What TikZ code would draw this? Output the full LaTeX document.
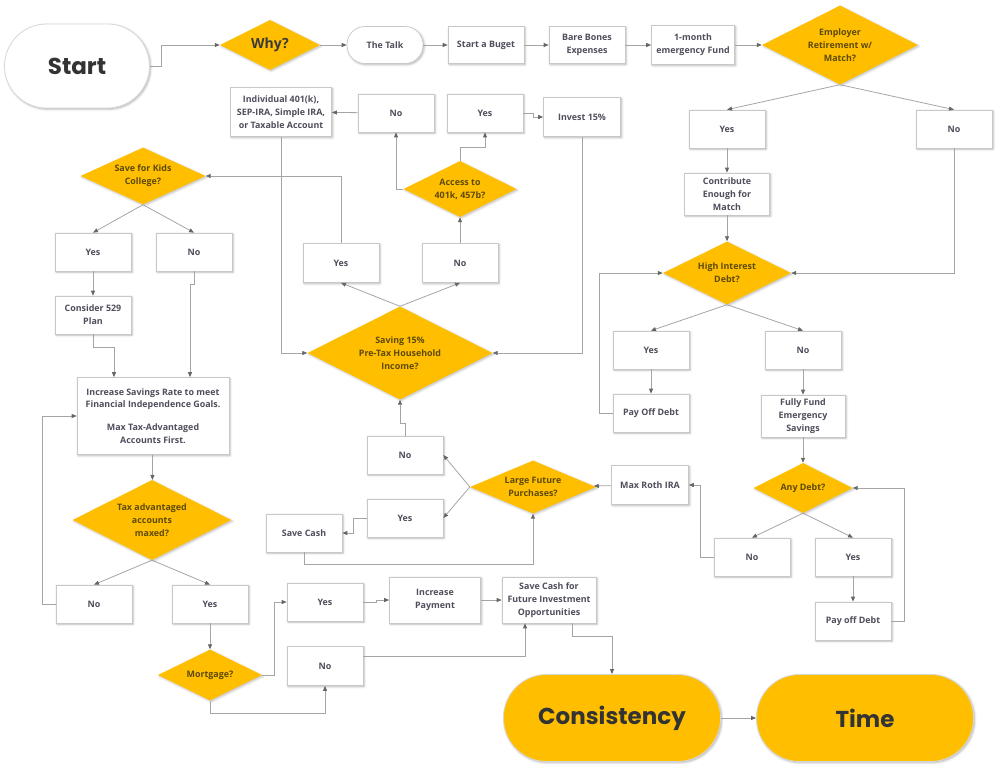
\documentclass[tikz,border=0pt]{standalone}
\usepackage{fontspec}
\setmainfont{Open Sans}
\newfontfamily\titlefont{Poppins}
\usepackage{tikz}
\usetikzlibrary{arrows.meta, positioning, shapes.geometric, shadows.blur}

\begin{document}
\begin{tikzpicture}[x=1pt, y=-1pt,
            box/.style={draw={rgb,255:red,200;green,200;blue,200}, fill=white,
                    line width=0.7pt, minimum width=76pt, minimum height=38pt,
                    align=center, inner sep=1pt,
                    font=\fontsize{8.9}{12.8}\selectfont\bfseries,
                    text={rgb,255:red,78;green,78;blue,92},
                    blur shadow={shadow xshift=1.2pt, shadow yshift=-1.2pt,
                    shadow blur steps=4, shadow opacity=30}},
            decision/.style={diamond, aspect=2, inner sep=0pt,
                    fill={rgb,255:red,255;green,191;blue,0}, align=center,
                    font=\fontsize{8.9}{12.8}\selectfont\bfseries,
                    text={rgb,255:red,94;green,74;blue,8},
                    blur shadow={shadow xshift=1.2pt, shadow yshift=-1.2pt,
                    shadow blur steps=4, shadow opacity=25}},
            pill/.style={box, rounded corners=18pt},
            bigpill/.style={draw={rgb,255:red,215;green,215;blue,215}, line width=0.8pt,
                    minimum width=217pt, minimum height=87pt, rounded corners=43pt,
                    font=\titlefont\fontsize{23}{27}\selectfont\bfseries,
                    text={rgb,255:red,51;green,51;blue,51},
                    blur shadow={shadow xshift=1.2pt, shadow yshift=-1.2pt,
                    shadow blur steps=4, shadow opacity=30}},
            link/.style={draw={rgb,255:red,165;green,165;blue,165}, line width=0.8pt},
            arr/.style={link, -{Triangle[length=5pt, width=4pt, color=black!60]}}
        ]

        \useasboundingbox (0,0) rectangle (1000,773);

        % ---------------------------------------------------------------
        % TOP ROW
        % ---------------------------------------------------------------
        \node[bigpill, fill=white, minimum width=145pt, minimum height=84pt,
              rounded corners=42pt] (start) at (77,66) {Start};
        \node[decision, minimum width=100pt, minimum height=50pt,
              font=\fontsize{14}{16}\selectfont\bfseries,
              text={rgb,255:red,58;green,58;blue,58}] (why) at (270,45) {Why?};
        \node[pill, minimum height=37pt] (talk) at (385,45) {The Talk};
        \node[box, minimum height=37pt] (budget) at (486,45) {Start a Buget};
        \node[box, minimum height=37pt] (bones) at (587,45) {Bare Bones\\Expenses};
        \node[box, minimum width=83pt, minimum height=39pt] (emfund) at (693,45) {1-month\\emergency Fund};
        \node[decision, minimum width=156pt, minimum height=79pt] (employer) at (840,45)
            {Employer\\Retirement w/\\Match?};

        % ---------------------------------------------------------------
        % EMPLOYER MATCH / DEBT (right)
        % ---------------------------------------------------------------
        \node[box] (empyes) at (727,129) {Yes};
        \node[box] (empno) at (954,129) {No};
        \node[box, minimum width=85pt, minimum height=42pt] (contrib) at (727,194)
            {Contribute\\Enough for\\Match};
        \node[decision, minimum width=128pt, minimum height=63pt] (hidebt) at (727,273)
            {High Interest\\Debt?};
        \node[box] (hiyes) at (651,350) {Yes};
        \node[box] (hino) at (803,350) {No};
        \node[box] (payoff) at (651,413) {Pay Off Debt};
        \node[box, minimum width=84pt, minimum height=42pt] (fullfund) at (803,416)
            {Fully Fund\\Emergency\\Savings};
        \node[decision, minimum width=99pt, minimum height=50pt] (anydebt) at (803,488) {Any Debt?};
        \node[box] (anyno) at (752,557) {No};
        \node[box] (anyyes) at (853,557) {Yes};
        \node[box] (payoffb) at (853,621) {Pay off Debt};

        % ---------------------------------------------------------------
        % SAVING 15% (middle)
        % ---------------------------------------------------------------
        \node[box, minimum width=101pt, minimum height=49pt] (indiv) at (281,112)
            {Individual 401(k),\\SEP-IRA, Simple IRA,\\or Taxable Account};
        \node[box] (accno) at (396,113) {No};
        \node[box] (accyes) at (485,113) {Yes};
        \node[box, minimum width=77pt, minimum height=39pt] (invest) at (582,117) {Invest 15\%};
        \node[decision, minimum width=113pt, minimum height=56pt] (access) at (460,189)
            {Access to\\401k, 457b?};
        \node[box, minimum height=39pt] (savyes) at (341,263) {Yes};
        \node[box, minimum height=39pt] (savno) at (460,263) {No};
        \node[decision, minimum width=185pt, minimum height=93pt] (saving) at (400,353)
            {Saving 15\%\\Pre-Tax Household\\Income?};
        \node[box] (lgno) at (405,455) {No};
        \node[box] (lgyes) at (405,518) {Yes};
        \node[box] (savecash) at (304,533) {Save Cash};
        \node[decision, minimum width=126pt, minimum height=53pt] (largep) at (533,487)
            {Large Future\\Purchases?};
        \node[box, minimum width=77pt, minimum height=39pt] (roth) at (650,485) {Max Roth IRA};

        % ---------------------------------------------------------------
        % KIDS / TAX ADVANTAGED (left)
        % ---------------------------------------------------------------
        \node[decision, minimum width=125pt, minimum height=57pt] (kids) at (143,176)
            {Save for Kids\\College?};
        \node[box] (kidyes) at (93,252) {Yes};
        \node[box] (kidno) at (194,252) {No};
        \node[box] (plan529) at (93,315) {Consider 529\\Plan};
        \node[box, minimum width=152pt, minimum height=77pt] (incsave) at (153,416)
            {Increase Savings Rate to meet\\Financial Independence Goals.\\[10pt]
             Max Tax-Advantaged\\Accounts First.};
        \node[decision, minimum width=159pt, minimum height=80pt] (taxmax) at (152,520)
            {Tax advantaged\\accounts\\maxed?};
        \node[box] (taxno) at (94,604) {No};
        \node[box] (taxyes) at (210,604) {Yes};
        \node[decision, minimum width=104pt, minimum height=51pt] (mortgage) at (210,675) {Mortgage?};
        \node[box] (mortyes) at (325,602) {Yes};
        \node[box, minimum height=39pt] (mortno) at (325,666) {No};
        \node[box, minimum width=91pt, minimum height=46pt] (incpay) at (435,600) {Increase\\Payment};
        \node[box, minimum width=94pt, minimum height=46pt] (savefuture) at (549,600)
            {Save Cash for\\Future Investment\\Opportunities};

        % ---------------------------------------------------------------
        % END
        % ---------------------------------------------------------------
        \node[bigpill, fill={rgb,255:red,255;green,191;blue,0}] (consist) at (612,718) {Consistency};
        \node[bigpill, fill={rgb,255:red,255;green,191;blue,0}] (time) at (865,718) {Time};

        % Arrows (top row)
        \draw[arr] (start.east) -- ++(11,0) |- (why.west);
        \draw[arr] (why) -- (talk);
        \draw[arr] (talk) -- (budget);
        \draw[arr] (budget) -- (bones);
        \draw[arr] (bones) -- (emfund);
        \draw[arr] (emfund) -- (employer);

        % Arrows (right)
        \draw[arr] (employer.south) -- (empyes.north);
        \draw[arr] (employer.south) -- (empno.north);
        \draw[arr] (empyes) -- (contrib);
        \draw[arr] (contrib) -- (hidebt);
        \draw[arr] (empno.south) |- (hidebt.east);
        \draw[arr] (hidebt.south) -- (hiyes.north);
        \draw[arr] (hidebt.south) -- (hino.north);
        \draw[arr] (hiyes) -- (payoff);
        \draw[arr] (payoff.west) -- ++(-13,0) |- (hidebt.west);
        \draw[arr] (hino) -- (fullfund);
        \draw[arr] (fullfund) -- (anydebt);
        \draw[arr] (anydebt.south) -- (anyno.north);
        \draw[arr] (anydebt.south) -- (anyyes.north);
        \draw[arr] (anyyes) -- (payoffb);
        \draw[arr] (payoffb.east) -- ++(13,0) |- (anydebt.east);
        \draw[arr] (anyno.west) -- ++(-13,0) |- (roth.east);
        \draw[arr] (roth) -- (largep);

        % Arrows (middle)
        \draw[arr] (largep.west) -- (lgno.east);
        \draw[arr] (largep.west) -- (lgyes.east);
        \draw[arr] (lgno.north) -- ++(0,-12) -| (saving.south);
        \draw[arr] (lgyes.west) -- ++(-13,0) |- (savecash.east);
        \draw[arr] (savecash.south) -- ++(0,12) -| (largep.south);
        \draw[arr] (saving.north) -- (savyes.south);
        \draw[arr] (saving.north) -- (savno.south);
        \draw[arr] (savno) -- (access);
        \draw[arr] (access.west) -| (accno.south);
        \draw[arr] (access.north) -- ++(0,-13) -| (accyes.south);
        \draw[arr] (accyes.east) -- ++(10,0) |- (invest.west);
        \draw[arr] (accno) -- (indiv);
        \draw[arr] (indiv.south) |- (saving.west);
        \draw[arr] (invest.south) |- (saving.east);
        \draw[arr] (savyes.north) |- (kids.east);

        % Arrows (left)
        \draw[arr] (kids.south) -- (kidyes.north);
        \draw[arr] (kids.south) -- (kidno.north);
        \draw[arr] (kidyes) -- (plan529);
        \draw[arr] (plan529.south) -- ++(0,13) -| ([xshift=-39pt]incsave.north);
        \draw[arr] (kidno.south) -- ++(0,13) -| ([xshift=37pt]incsave.north);
        \draw[arr] (incsave) -- (taxmax);
        \draw[arr] (taxmax.south) -- (taxno.north);
        \draw[arr] (taxmax.south) -- (taxyes.north);
        \draw[arr] (taxno.west) -- ++(-13,0) |- (incsave.west);
        \draw[arr] (taxyes) -- (mortgage);
        \draw[arr] (mortgage.east) -- ++(12,0) |- (mortyes.west);
        \draw[arr] (mortgage.south) -- ++(0,13) -| (mortno.south);
        \draw[arr] (mortyes.east) -- ++(13,0) |- (incpay.west);
        \draw[arr] (incpay) -- (savefuture);
        \draw[arr] ([yshift=10pt]mortno.east) -| ([xshift=-24pt]savefuture.south);

        % Arrows (end)
        \draw[arr] ([xshift=23pt]savefuture.south) -- ++(0,13) -| (consist.north);
        \draw[arr] (consist) -- (time);

    \end{tikzpicture}
\end{document}
